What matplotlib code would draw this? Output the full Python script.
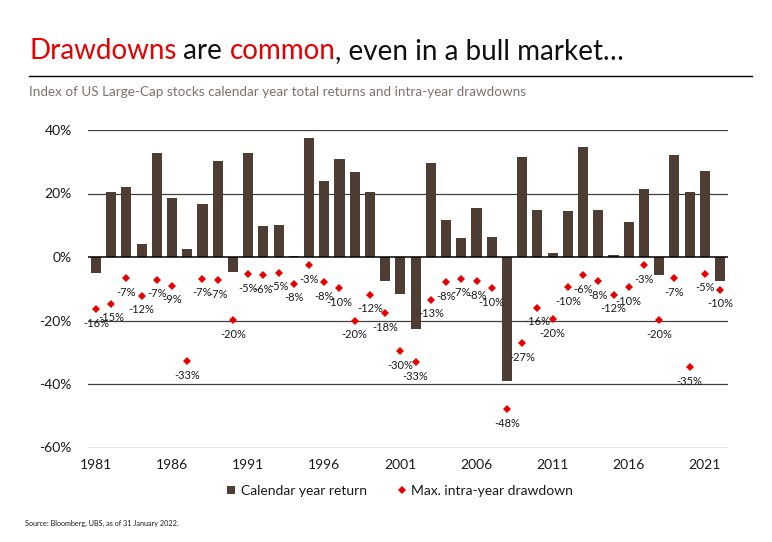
import matplotlib
matplotlib.use("Agg")
import matplotlib.pyplot as plt
from matplotlib.lines import Line2D

plt.rcParams['font.family'] = ['Lato', 'DejaVu Sans']

years = list(range(1981, 2023))
annual_return = [-4.9, 20.6, 22.1, 4.1, 32.6, 18.6, 2.5, 16.7, 30.3, -4.6,
                 32.8, 9.8, 10.1, 0.3, 37.6, 24.0, 30.9, 26.8, 20.5, -7.5,
                 -11.6, -22.6, 29.7, 11.7, 6.0, 15.5, 6.3, -39.2, 31.6, 14.9,
                 1.3, 14.6, 34.7, 14.9, 0.6, 11.1, 21.5, -5.6, 32.2, 20.6,
                 27.2, -7.5]
max_drawdown = [-16.4, -14.7, -6.6, -12.2, -7.1, -9.0, -32.8, -6.8, -7.4, -19.8,
                -5.4, -5.8, -4.9, -8.4, -2.6, -8.0, -9.9, -20.1, -11.9, -17.6,
                -29.6, -33.1, -13.4, -8.0, -6.8, -7.6, -9.9, -48.0, -27.1, -16.0,
                -19.5, -9.6, -5.8, -7.6, -11.9, -9.6, -2.6, -19.8, -6.6, -34.7,
                -5.2, -10.3]
y_ticks = [-60, -40, -20, 0, 20, 40]
x_ticks = list(range(1981, 2022, 5))

BROWN = '#4d3d33'
RED = '#e60000'
W, H = 772, 542

fig = plt.figure(figsize=(W / 100, H / 100), dpi=100)
ax = fig.add_axes([88.3 / W, 1 - 447.5 / H, (727.7 - 88.3) / W, (447.5 - 130) / H])

ax.set_xlim(1980.5, 2022.5)
ax.set_ylim(-60, 40)
for yv in y_ticks:
    if yv != 0:
        ax.axhline(yv, color='#404040', lw=0.9, zorder=0)
ax.bar(years, annual_return, width=0.66, color=BROWN, zorder=2)
ax.axhline(0, color='black', lw=1.1, zorder=3)
ax.plot(years, max_drawdown, linestyle='none', marker='D', markersize=3.6,
        color=RED, markeredgewidth=0, zorder=4)
for yr, v in zip(years, max_drawdown):
    ax.annotate(f"{round(v):d}%", (yr, v), xytext=(0, -10.2), textcoords='offset points',
                ha='center', va='center', fontsize=8, color='#1a1a1a', zorder=5)

for s in ax.spines.values():
    s.set_visible(False)
ax.set_yticks(y_ticks)
ax.set_yticklabels([f"{t}%" for t in y_ticks])
ax.set_xticks(x_ticks)
ax.set_xticklabels([str(t) for t in x_ticks])
ax.tick_params(axis='y', length=0, pad=12, labelsize=10, labelcolor='#1a1a1a')
ax.tick_params(axis='x', length=0, pad=8, labelsize=10, labelcolor='#1a1a1a')

handles = [
    Line2D([], [], linestyle='none', marker='s', markersize=6, color=BROWN, markeredgewidth=0),
    Line2D([], [], linestyle='none', marker='D', markersize=3.6, color=RED, markeredgewidth=0),
]
fig.legend(handles, ['Calendar year return', 'Max. intra-year drawdown'],
           loc='center', bbox_to_anchor=(400 / W, 1 - 491 / H), ncol=2, frameon=False,
           fontsize=10, handlelength=0.6, handletextpad=0.4, columnspacing=2.2,
           labelcolor='#1a1a1a')

# Title with coloured segments
segments = [("Drawdowns", RED), (" are ", '#111111'), ("common", RED),
            (", even in a bull market\u2026", '#111111')]
fig.canvas.draw()
renderer = fig.canvas.get_renderer()
x = 29 / W
ty = 1 - 59 / H
for txt, col in segments:
    t = fig.text(x, ty, txt, color=col, fontsize=20, fontweight='normal',
                 ha='left', va='baseline')
    bb = t.get_window_extent(renderer=renderer)
    x += bb.width / W

fig.add_artist(Line2D([29 / W, 752 / W], [1 - 76 / H, 1 - 76 / H], color='black', lw=1.0))
fig.text(29 / W, 1 - 96.5 / H,
         "Index of US Large-Cap stocks calendar year total returns and intra-year drawdowns",
         color='#7d7069', fontsize=9.7, ha='left', va='baseline')
fig.text(25 / W, 1 - 526 / H, "Source: Bloomberg, UBS, as of 31 January 2022.",
         color='#1a1a1a', fontsize=5.2, ha='left', va='baseline')

fig.savefig('out.png', dpi=100)
